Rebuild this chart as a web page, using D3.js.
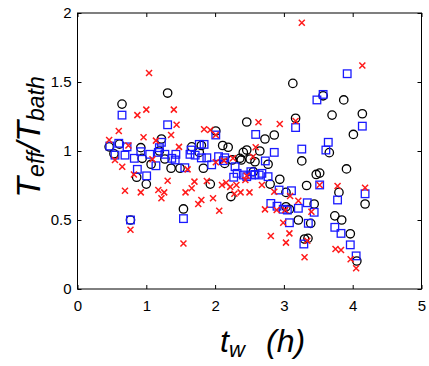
<!DOCTYPE html>
<html><head><meta charset="utf-8">
<script src="https://cdn.jsdelivr.net/npm/d3@7"></script>
<style>body{margin:0;background:#fff}svg{display:block}</style>
</head><body><svg id="c" width="429" height="366"></svg>
<script>
const xTicks=[0,1,2,3,4,5];
const yTicks=[0,0.5,1,1.5,2];
const yTickLabels=["0","0.5","1","1.5","2"];
const circles=[[0.46,1.03],[0.53,0.98],[0.61,1.05],[0.647,1.34],[0.77,0.50],[0.86,0.81],[0.92,1.024],[0.94,0.947],[1.00,0.76],[1.07,0.904],[1.19,1.0],[1.22,1.087],[1.27,0.942],[1.31,1.42],[1.36,0.875],[1.49,0.875],[1.54,0.58],[1.66,1.03],[1.77,0.99],[1.80,1.04],[1.83,0.875],[1.93,0.76],[2.01,1.145],[2.11,1.04],[2.14,0.91],[2.19,1.027],[2.23,0.67],[2.25,0.935],[2.36,0.947],[2.38,0.935],[2.41,0.99],[2.46,1.21],[2.46,1.007],[2.51,0.942],[2.555,0.85],[2.58,0.922],[2.65,1.0],[2.725,1.087],[2.77,0.904],[2.80,0.76],[2.86,1.116],[2.94,0.795],[3.03,0.70],[3.03,0.596],[3.08,0.578],[3.13,1.49],[3.17,1.237],[3.21,0.50],[3.26,0.928],[3.30,0.362],[3.33,0.75],[3.35,0.367],[3.39,0.476],[3.44,0.616],[3.47,0.83],[3.52,0.84],[3.57,1.40],[3.66,0.988],[3.70,1.26],[3.74,0.53],[3.80,0.70],[3.84,0.50],[3.87,1.37],[3.91,0.87],[3.965,0.40],[4.01,1.12],[4.06,0.203],[4.14,1.27],[4.18,0.616]];
const squares=[[0.47,1.036],[0.545,0.97],[0.60,1.056],[0.647,1.26],[0.69,0.97],[0.72,1.03],[0.77,0.50],[0.826,0.947],[0.87,0.867],[0.92,0.995],[1.005,0.82],[1.05,0.976],[1.14,0.893],[1.175,0.99],[1.19,1.024],[1.22,1.063],[1.27,0.976],[1.31,1.19],[1.37,0.947],[1.43,0.976],[1.42,0.935],[1.54,0.51],[1.56,0.879],[1.635,0.976],[1.65,1.007],[1.71,0.97],[1.77,1.048],[1.84,1.048],[1.80,0.95],[1.88,0.951],[1.95,0.90],[2.01,1.116],[2.05,0.959],[2.14,0.951],[2.12,0.93],[2.29,0.886],[2.27,0.81],[2.32,0.838],[2.41,0.826],[2.46,0.814],[2.53,0.826],[2.52,0.85],[2.58,0.83],[2.59,1.12],[2.64,0.826],[2.68,0.838],[2.73,0.928],[2.77,0.814],[2.86,0.99],[2.81,0.62],[2.90,0.60],[2.93,0.717],[2.99,0.578],[3.05,0.572],[3.08,0.48],[3.11,0.712],[3.17,1.17],[3.21,0.585],[3.26,1.014],[3.29,0.326],[3.34,0.625],[3.355,0.476],[3.44,0.556],[3.48,1.37],[3.52,0.754],[3.57,1.41],[3.61,1.007],[3.645,1.063],[3.74,0.447],[3.78,0.645],[3.83,0.403],[3.92,1.56],[3.965,0.32],[4.05,0.24],[4.14,1.18],[4.18,0.69]];
const crosses=[[0.46,1.08],[0.545,0.935],[0.60,1.145],[0.65,0.886],[0.69,0.712],[0.74,1.04],[0.77,0.43],[0.82,0.83],[0.87,1.26],[0.92,0.70],[0.96,1.10],[1.00,1.30],[1.04,1.565],[1.09,0.94],[1.14,1.075],[1.175,0.717],[1.22,0.657],[1.26,0.70],[1.31,0.785],[1.36,1.116],[1.40,1.30],[1.44,1.19],[1.475,1.03],[1.54,0.33],[1.57,0.70],[1.60,0.867],[1.66,0.73],[1.70,0.778],[1.755,0.616],[1.80,0.645],[1.84,1.157],[1.93,1.152],[1.88,0.783],[1.97,0.657],[2.01,0.918],[2.01,1.116],[2.06,0.567],[2.10,0.754],[2.13,0.93],[2.16,0.77],[2.22,0.74],[2.26,0.947],[2.31,0.754],[2.37,0.70],[2.28,0.69],[2.44,0.79],[2.50,0.70],[2.46,0.82],[2.55,0.959],[2.59,1.027],[2.63,1.208],[2.68,0.754],[2.725,0.577],[2.81,0.384],[2.86,0.705],[2.895,0.572],[2.94,1.196],[2.99,0.48],[3.02,0.572],[3.03,0.336],[3.08,0.403],[3.09,0.674],[3.17,1.217],[3.21,0.64],[3.26,1.93],[3.30,0.23],[3.34,0.35],[3.40,0.56],[3.52,0.754],[3.75,0.29],[3.78,0.746],[3.83,0.283],[3.97,0.215],[4.05,0.15],[4.14,1.62],[4.18,0.734]];

const L=77.5,R=421.5,T=13,B=289;
const svg=d3.select("#c");
const x=d3.scaleLinear().domain([0,5]).range([L,R]);
const y=d3.scaleLinear().domain([0,2]).range([B,T]);
const font='"Liberation Sans", Arial, Helvetica, sans-serif';

function styleAxis(g,labels){
  g.select(".domain").remove();
  g.selectAll(".tick line").attr("stroke","#000").attr("stroke-width",1);
  g.selectAll(".tick text").attr("font-family",font).attr("font-size",15).attr("fill","#000");
  if(!labels) g.selectAll(".tick text").remove();
}
svg.append("g").attr("transform",`translate(0,${B})`)
  .call(d3.axisBottom(x).tickValues(xTicks).tickFormat(d3.format("d")).tickSize(-4).tickPadding(11))
  .call(g=>styleAxis(g,true));
svg.append("g").attr("transform",`translate(0,${T})`)
  .call(d3.axisTop(x).tickValues(xTicks).tickSize(-4))
  .call(g=>styleAxis(g,false));
svg.append("g").attr("transform",`translate(${L},0)`)
  .call(d3.axisLeft(y).tickValues(yTicks).tickFormat((d,i)=>yTickLabels[i]).tickSize(-4).tickPadding(6))
  .call(g=>styleAxis(g,true));
svg.append("g").attr("transform",`translate(${R},0)`)
  .call(d3.axisRight(y).tickValues(yTicks).tickSize(-4))
  .call(g=>styleAxis(g,false));
svg.append("rect").attr("x",L).attr("y",T).attr("width",R-L).attr("height",B-T)
  .attr("fill","none").attr("stroke","#000").attr("stroke-width",1);

const plot=svg.append("g");
plot.selectAll("circle.k").data(circles).join("circle")
  .attr("cx",d=>x(d[0])).attr("cy",d=>y(d[1])).attr("r",4.2)
  .attr("fill","none").attr("stroke","#000").attr("stroke-width",1.3);
const s=7.6;
plot.selectAll("rect.b").data(squares).join("rect")
  .attr("x",d=>x(d[0])-s/2).attr("y",d=>y(d[1])-s/2).attr("width",s).attr("height",s)
  .attr("fill","none").attr("stroke","#1a1aff").attr("stroke-width",1.3);
const h=3;
plot.selectAll("path.r").data(crosses).join("path")
  .attr("d",d=>{const cx=x(d[0]),cy=y(d[1]);return `M${cx-h},${cy-h}L${cx+h},${cy+h}M${cx-h},${cy+h}L${cx+h},${cy-h}`;})
  .attr("fill","none").attr("stroke","#ff1a1a").attr("stroke-width",1.5);

// x label
const xl=svg.append("text").attr("x",220).attr("y",352).attr("font-family",font).attr("font-style","italic").attr("fill","#000");
xl.append("tspan").attr("font-size",32).text("t");
xl.append("tspan").attr("font-size",22).attr("dy",5).text("w");
xl.append("tspan").attr("font-size",32).attr("dy",-5).attr("x",266).text("(h)");
// y label
const yl=svg.append("text").attr("transform","translate(40,137) rotate(-90)").attr("text-anchor","middle")
  .attr("font-family",font).attr("font-style","italic").attr("fill","#000");
yl.append("tspan").attr("font-size",34).text("T");
yl.append("tspan").attr("font-size",23).attr("dy",4).text("eff");
yl.append("tspan").attr("font-size",34).attr("dy",-4).text("/");
yl.append("tspan").attr("font-size",34).text("T");
yl.append("tspan").attr("font-size",23).attr("dy",4).text("bath");
</script></body></html>
